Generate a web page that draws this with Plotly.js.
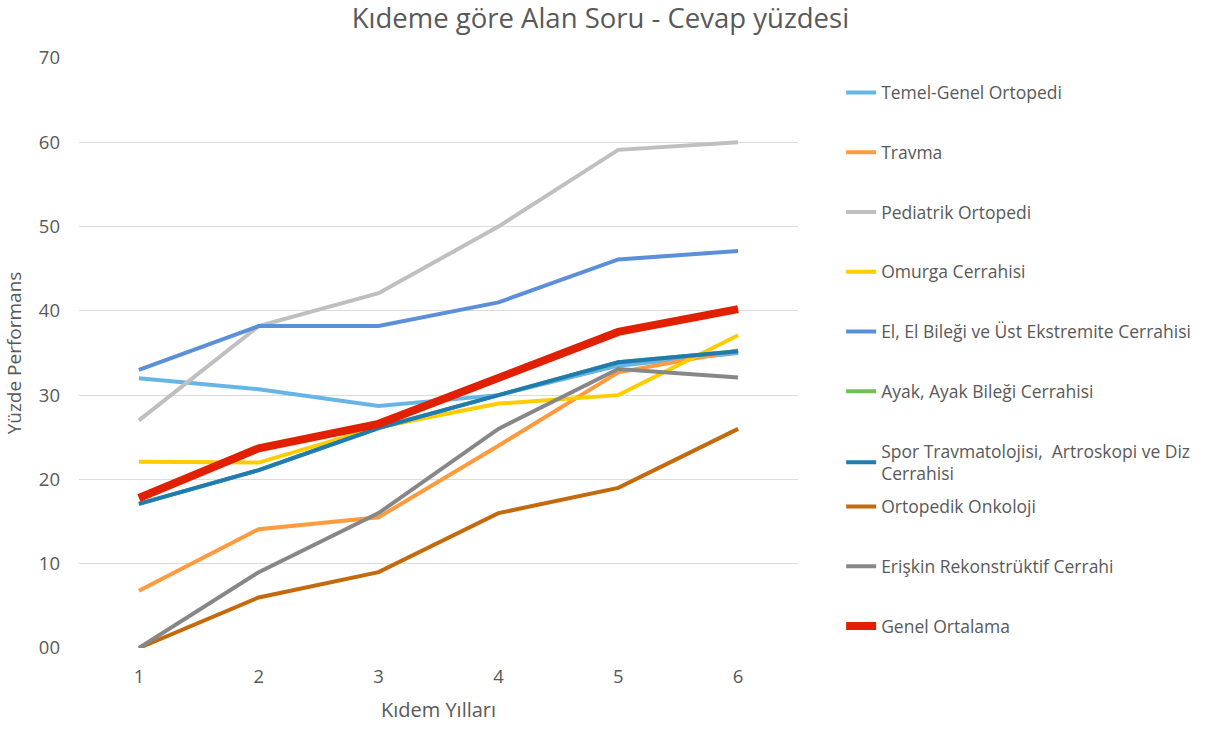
<!DOCTYPE html>
<html>
<head>
<meta charset="utf-8">
<script src="https://cdn.plot.ly/plotly-3.0.1.min.js"></script>
<style>html,body{margin:0;padding:0;background:#fff;}#chart{width:1208px;height:729px;}</style>
</head>
<body>
<div id="chart"></div>
<script>
const years = [1, 2, 3, 4, 5, 6];
const yTickVals = [0, 10, 20, 30, 40, 50, 60, 70];
const yTickText = ["00", "10", "20", "30", "40", "50", "60", "70"];

const temelGenel = [32, 30.7, 28.7, 30, 33.5, 35];
const travma = [6.8, 14.1, 15.5, 24, 32.7, 35.3];
const pediatrik = [27, 38.2, 42.1, 50, 59.1, 60];
const omurga = [22.1, 22, 26.2, 29, 30, 37.1];
const elBilegi = [33, 38.2, 38.2, 41, 46.1, 47.1];
const ayakBilegi = [17.1, 21.1, 26.1, 30, 33.9, 35.2];
const spor = [17.1, 21.1, 26.1, 30, 33.9, 35.2];
const onkoloji = [0, 6, 9, 16, 19, 26];
const eriskin = [0, 9, 16, 26, 33.1, 32.1];
const genelOrtalama = [17.8, 23.7, 26.6, 32.1, 37.5, 40.2];

const names = [
  "Temel-Genel Ortopedi",
  "Travma",
  "Pediatrik Ortopedi",
  "Omurga Cerrahisi",
  "El, El Bileği ve Üst Ekstremite Cerrahisi",
  "Ayak, Ayak Bileği Cerrahisi",
  "Spor Travmatolojisi,  Artroskopi ve Diz<br>Cerrahisi",
  "Ortopedik Onkoloji",
  "Erişkin Rekonstrüktif Cerrahi",
  "Genel Ortalama"
];
const series = [temelGenel, travma, pediatrik, omurga, elBilegi, ayakBilegi, spor, onkoloji, eriskin, genelOrtalama];
const colors = ["#67B5E6", "#FF9A3D", "#BFBFBF", "#FFCC00", "#5B8FDA", "#70BF55", "#1F7BB2", "#C4690C", "#878787", "#E02000"];
const widths = [4, 4, 4, 4, 4, 4, 4, 4, 4, 8];

const traces = series.map((s, i) => ({
  x: years,
  y: s,
  name: names[i],
  type: "scatter",
  mode: "lines",
  line: {color: colors[i], width: widths[i]},
  legendgroup: "g" + i,
  legend: i < 7 ? "legend" : "legend2",
  hoverinfo: "x+y+name"
}));

const legendFont = {family: "Open Sans, sans-serif", size: 17.5, color: "#595959"};
const layout = {
  width: 1208,
  height: 729,
  margin: {l: 79, r: 408, t: 58, b: 81},
  paper_bgcolor: "#ffffff",
  plot_bgcolor: "#ffffff",
  font: {family: "Open Sans, sans-serif", color: "#595959"},
  title: {
    text: "Kıdeme göre Alan Soru - Cevap yüzdesi",
    font: {family: "Open Sans, sans-serif", size: 27.5, color: "#595959"},
    x: 0.497, xanchor: "center", y: 0.975, yanchor: "middle"
  },
  xaxis: {
    type: "category",
    tickvals: years,
    ticktext: years.map(String),
    range: [-0.5, 5.5],
    showgrid: false,
    zeroline: false,
    showline: false,
    ticks: "",
    ticklabelstandoff: 15,
    tickfont: {size: 18.5, color: "#595959"},
    title: {text: "Kıdem Yılları", font: {size: 20, color: "#595959"}, standoff: 16}
  },
  yaxis: {
    range: [0, 70],
    tickvals: yTickVals,
    ticktext: yTickText,
    showgrid: true,
    gridcolor: "#DCDCDC",
    gridwidth: 1,
    zeroline: false,
    showline: false,
    ticks: "",
    ticklen: 0,
    ticklabelstandoff: 18,
    tickfont: {size: 18.5, color: "#595959"},
    title: {text: "Yüzde Performans", font: {size: 19, color: "#595959"}, standoff: 12}
  },
  showlegend: true,
  legend: {
    x: 1.06, xanchor: "left", y: 0.972, yanchor: "top",
    font: legendFont,
    traceorder: "grouped",
    tracegroupgap: 34,
    bgcolor: "rgba(0,0,0,0)"
  },
  legend2: {
    x: 1.06, xanchor: "left", y: 0.27, yanchor: "top",
    font: legendFont,
    traceorder: "grouped",
    tracegroupgap: 34,
    bgcolor: "rgba(0,0,0,0)"
  }
};

Plotly.newPlot("chart", traces, layout, {displayModeBar: false, responsive: false});
</script>
</body>
</html>
